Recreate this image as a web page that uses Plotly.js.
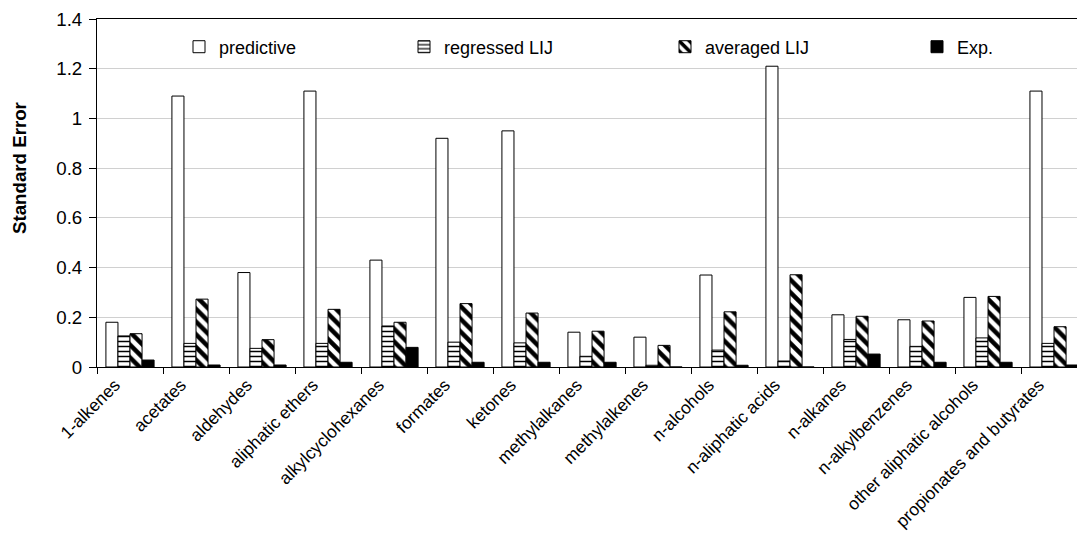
<!DOCTYPE html>
<html>
<head>
<meta charset="utf-8">
<script src="https://cdn.plot.ly/plotly-3.0.1.min.js"></script>
<style>html,body{margin:0;padding:0;background:#fff;} #chart{width:1077px;height:534px;}</style>
</head>
<body>
<div id="chart"></div>
<script>
const categories = ['1-alkenes','acetates','aldehydes','aliphatic ethers','alkylcyclohexanes','formates','ketones','methylalkanes','methylalkenes','n-alcohols','n-aliphatic acids','n-alkanes','n-alkylbenzenes','other aliphatic alcohols','propionates and butyrates'];
const seriesNames = ['predictive','regressed LIJ','averaged LIJ','Exp.'];
const predictive = [0.18,1.09,0.38,1.11,0.43,0.92,0.95,0.14,0.12,0.37,1.21,0.21,0.19,0.28,1.11];
const regressed  = [0.125,0.095,0.075,0.095,0.165,0.10,0.097,0.043,0.007,0.068,0.024,0.111,0.083,0.117,0.095];
const averaged   = [0.134,0.273,0.11,0.232,0.18,0.255,0.217,0.144,0.087,0.222,0.371,0.204,0.185,0.284,0.162];
const expData    = [0.028,0.008,0.008,0.019,0.079,0.019,0.019,0.019,0,0.007,0,0.052,0.019,0.019,0.008];
const yTicks = [0,0.2,0.4,0.6,0.8,1,1.2,1.4];
const yTitle = 'Standard Error';

const FONT = 'Arial, "Liberation Sans", sans-serif';
const line = {color:'#000', width:1};

const traces = [
  {type:'bar', name:seriesNames[0], x:categories, y:predictive, legend:'legend',
   marker:{color:'#fff', line:line}},
  {type:'bar', name:seriesNames[1], x:categories, y:regressed, legend:'legend2',
   marker:{color:'#fff', line:line, pattern:{shape:'-', fgcolor:'#000', bgcolor:'#fff', size:5, solidity:0.3}}},
  {type:'bar', name:seriesNames[2], x:categories, y:averaged, legend:'legend3',
   marker:{color:'#fff', line:line, pattern:{shape:'\\', fgcolor:'#000', bgcolor:'#fff', size:9, solidity:0.5}}},
  {type:'bar', name:seriesNames[3], x:categories, y:expData, legend:'legend4',
   marker:{color:'#000', line:line}}
];

const legBase = {orientation:'h', yanchor:'middle', y:0.9195, xanchor:'left', bgcolor:'rgba(0,0,0,0)',
  font:{family:FONT, size:18, color:'#000'}};
const px = p => (p-97)/980;
const py = p => 1-(p-19)/348;

const layout = {
  width:1077, height:534,
  margin:{l:97, r:0, t:19, b:167, pad:0},
  paper_bgcolor:'#fff', plot_bgcolor:'#fff',
  font:{family:FONT, size:18.7, color:'#000'},
  barmode:'group', bargap:0.27, bargroupgap:0,
  showlegend:true,
  legend: Object.assign({}, legBase, {x:px(179)}),
  legend2: Object.assign({}, legBase, {x:px(404)}),
  legend3: Object.assign({}, legBase, {x:px(665)}),
  legend4: Object.assign({}, legBase, {x:px(917)}),
  xaxis:{type:'category', range:[-0.5, 14.348], showline:true, linecolor:'#000', linewidth:1, mirror:true,
    ticks:'outside', tickson:'boundaries', ticklen:6, tickcolor:'#000', tickwidth:1,
    tickangle:-45, ticklabelshift:-15, ticklabelstandoff:0,
    tickfont:{family:FONT, size:17.4, color:'#000'}, showgrid:false, automargin:false},
  yaxis:{range:[0,1.4], tickvals:yTicks, ticktext:yTicks.map(String), showline:true, linecolor:'#000', linewidth:1,
    ticks:'outside', ticklen:7, tickcolor:'#000', tickwidth:1, ticklabelstandoff:3,
    showgrid:true, gridcolor:'#d0d0d0', gridwidth:1, zeroline:false,
    tickfont:{family:FONT, size:18.7, color:'#000'}, automargin:false},
  annotations:[{text:yTitle, textangle:-90, xref:'paper', yref:'paper', x:px(20), y:py(168),
    xanchor:'center', yanchor:'middle', showarrow:false,
    font:{family:FONT, size:18.7, color:'#000', weight:'bold'}}]
};

Plotly.newPlot('chart', traces, layout, {staticPlot:true, displayModeBar:false});
</script>
</body>
</html>
